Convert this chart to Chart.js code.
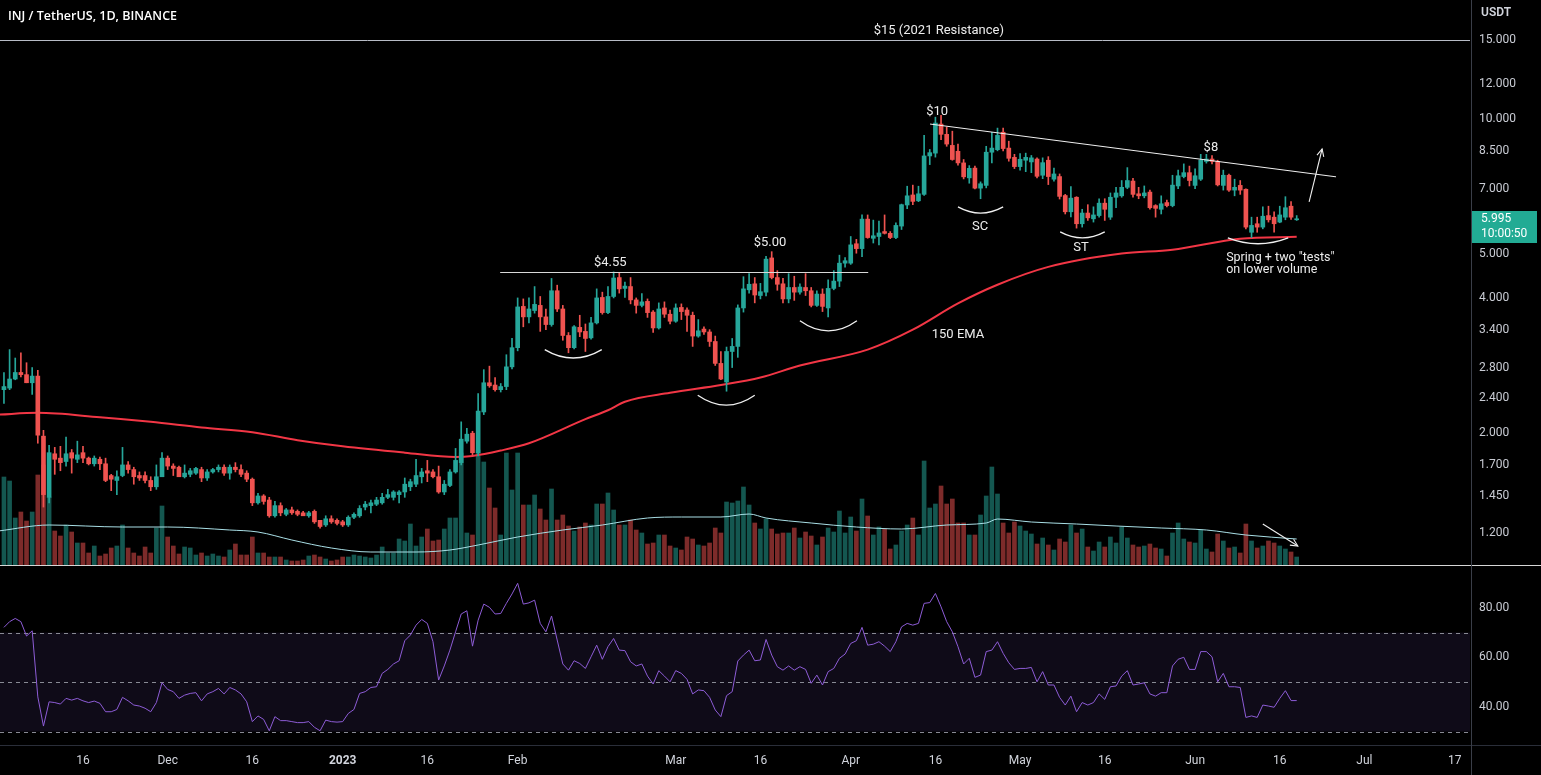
<!DOCTYPE html>
<html><head><meta charset="utf-8">
<script src="https://cdn.jsdelivr.net/npm/chart.js@4.4.0/dist/chart.umd.min.js"></script>
<style>
html,body{margin:0;padding:0;background:#000;overflow:hidden}
#wrap{position:relative;width:1541px;height:775px;background:#000}
#c1{position:absolute;left:0;top:0}
#c2{position:absolute;left:0;top:566px}
.hl{position:absolute;left:0;width:1541px;height:1px}
</style></head><body>
<div id="wrap">
<canvas id="c1" width="1541" height="565"></canvas>
<canvas id="c2" width="1541" height="209"></canvas>
<div class="hl" style="top:565px;background:#d6d6d6"></div>
<div class="hl" style="top:745px;background:#2a2e39"></div>
<div style="position:absolute;left:1471px;top:0;width:1px;height:775px;background:#3a3e48"></div>
</div>
<script>
// ---- DATA (day index 0 = 1 Nov 2022; first candle = 2 Nov 2022) ----
const firstDay = 1;
const opens = [
2.50,2.52,2.64,2.73,2.70,2.59,2.68,1.97,1.44,1.80,
1.76,1.73,1.81,1.75,1.81,1.76,1.71,1.75,1.71,1.61,
1.57,1.61,1.70,1.66,1.61,1.61,1.57,1.52,1.60,1.76,
1.69,1.68,1.60,1.62,1.63,1.66,1.59,1.64,1.66,1.68,
1.63,1.68,1.66,1.63,1.58,1.40,1.45,1.42,1.31,1.38,
1.32,1.35,1.34,1.33,1.31,1.34,1.28,1.25,1.29,1.28,
1.27,1.25,1.30,1.31,1.37,1.38,1.39,1.40,1.44,1.44,
1.46,1.48,1.52,1.54,1.60,1.65,1.64,1.60,1.48,1.53,
1.64,1.72,1.92,2.00,1.81,2.23,2.59,2.56,2.50,2.54,
2.81,3.10,3.83,3.63,3.75,3.85,3.63,3.49,4.15,3.78,
3.30,3.10,3.44,3.37,3.26,3.52,4.01,3.71,4.03,4.44,
4.20,4.24,3.96,3.85,3.93,3.72,3.43,3.80,3.68,3.55,
3.81,3.76,3.66,3.29,3.41,3.36,3.20,2.86,2.60,3.04,
3.12,3.80,4.17,4.30,4.05,4.12,4.91,4.44,4.30,3.98,
4.22,4.12,4.22,4.15,3.85,4.08,3.80,4.20,4.36,4.78,
4.78,5.28,5.15,5.99,5.43,5.48,5.62,5.57,5.45,5.78,
6.44,6.78,6.58,6.80,8.28,8.40,9.75,9.25,8.74,8.48,
7.99,7.40,7.78,7.02,7.12,8.44,8.55,9.35,8.62,8.22,
7.84,8.10,8.03,8.15,7.50,8.10,7.35,7.45,6.76,6.22,
6.70,5.85,6.18,6.00,6.10,6.50,6.05,6.70,6.75,7.05,
7.28,6.82,6.75,6.88,6.42,6.30,6.52,6.42,7.10,7.45,
7.60,7.12,7.35,8.05,8.15,8.05,7.12,7.50,6.95,7.12,
6.98,5.60,5.85,5.75,6.10,6.05,5.90,6.05,6.40,5.97];
const highs = [
2.73,3.07,2.94,3.02,2.87,2.80,2.76,2.03,1.88,1.86,
1.87,1.96,1.84,1.92,1.87,1.77,1.78,1.77,1.76,1.62,
1.65,1.86,1.73,1.68,1.64,1.64,1.60,1.70,1.81,1.78,
1.71,1.69,1.70,1.67,1.68,1.68,1.66,1.67,1.70,1.70,
1.70,1.72,1.70,1.65,1.59,1.47,1.46,1.44,1.41,1.40,
1.36,1.37,1.35,1.34,1.34,1.35,1.28,1.31,1.31,1.29,
1.28,1.31,1.33,1.38,1.41,1.42,1.44,1.47,1.50,1.49,
1.49,1.59,1.58,1.75,1.67,1.74,1.66,1.69,1.57,1.66,
1.85,2.12,2.05,2.02,2.45,2.77,2.82,2.66,2.58,2.99,
3.25,4.00,3.98,4.00,4.24,4.03,3.78,4.42,4.27,3.85,
3.35,3.47,3.66,3.50,3.62,4.19,4.12,4.24,4.57,4.55,
4.34,4.44,4.00,4.09,3.98,3.75,3.90,3.92,3.76,3.88,
3.88,3.80,3.72,3.58,3.45,3.40,3.29,3.04,3.11,3.25,
3.86,4.46,4.53,4.44,4.31,4.95,5.07,4.60,4.42,4.53,
4.47,4.30,4.53,4.22,4.15,4.19,4.39,4.60,4.98,4.92,
5.48,5.40,6.12,6.12,5.96,5.93,6.12,5.62,5.88,6.47,
7.09,7.13,7.09,9.20,8.56,10.1,10.2,9.60,9.40,8.80,
8.13,7.88,7.86,7.25,8.70,9.35,9.55,9.55,8.93,8.35,
8.38,8.40,8.30,8.20,8.20,8.25,7.78,7.55,6.80,7.08,
6.72,6.30,6.45,6.38,6.65,6.65,6.85,7.05,7.30,7.80,
7.38,7.05,7.10,6.95,6.45,6.75,6.60,7.50,7.70,7.95,
7.86,7.75,8.35,8.35,8.30,8.10,7.70,7.55,7.35,7.30,
7.00,6.05,6.05,6.38,6.40,6.22,6.40,6.72,6.55,6.10];
const lows = [
2.33,2.50,2.63,2.67,2.59,2.44,1.90,1.37,1.40,1.62,
1.65,1.69,1.63,1.72,1.72,1.70,1.69,1.66,1.56,1.49,
1.46,1.60,1.63,1.54,1.57,1.55,1.49,1.50,1.60,1.66,
1.61,1.60,1.59,1.60,1.62,1.56,1.57,1.63,1.64,1.61,
1.58,1.64,1.60,1.56,1.38,1.39,1.39,1.30,1.30,1.31,
1.31,1.32,1.31,1.31,1.30,1.26,1.23,1.24,1.26,1.25,
1.24,1.24,1.29,1.30,1.35,1.33,1.38,1.39,1.43,1.42,
1.40,1.44,1.49,1.52,1.55,1.56,1.59,1.47,1.46,1.52,
1.63,1.70,1.90,1.79,1.78,2.20,2.53,2.48,2.47,2.50,
2.78,3.05,3.45,3.52,3.70,3.37,3.40,3.46,3.73,3.22,
3.02,3.08,3.28,3.04,3.24,3.50,3.68,3.69,4.00,4.10,
4.01,3.88,3.70,3.82,3.62,3.35,3.41,3.62,3.50,3.53,
3.58,3.37,3.12,3.27,3.32,3.12,2.83,2.63,2.48,2.80,
2.95,3.72,4.10,3.90,3.98,4.04,4.41,4.16,3.90,3.90,
3.95,4.08,4.05,3.82,3.83,3.73,3.63,4.17,4.24,4.68,
4.75,5.03,4.94,5.43,5.30,5.25,5.55,5.42,5.42,5.68,
6.32,6.45,6.55,6.76,7.92,8.23,9.00,8.70,8.10,7.90,
7.36,7.20,6.99,6.65,7.03,7.99,8.50,8.50,8.06,7.76,
7.70,7.64,7.60,7.40,7.37,7.15,7.28,6.64,6.15,6.06,
5.72,5.75,5.95,5.90,6.05,5.95,5.98,6.35,6.70,7.00,
6.70,6.65,6.68,6.30,6.05,6.15,6.38,6.38,7.00,7.40,
7.10,7.00,7.30,7.98,7.95,7.10,6.95,6.90,6.75,6.80,
5.70,5.45,5.60,5.70,5.90,5.60,5.88,5.97,5.98,5.95];
const closes = [
2.54,2.64,2.73,2.70,2.59,2.68,1.98,1.46,1.81,1.75,
1.72,1.80,1.76,1.79,1.76,1.71,1.76,1.71,1.57,1.58,
1.60,1.70,1.66,1.60,1.59,1.57,1.52,1.60,1.76,1.69,
1.67,1.60,1.63,1.65,1.67,1.59,1.64,1.66,1.68,1.63,
1.68,1.66,1.62,1.58,1.40,1.45,1.41,1.31,1.38,1.33,
1.35,1.33,1.32,1.31,1.33,1.27,1.24,1.29,1.27,1.26,
1.25,1.30,1.32,1.36,1.39,1.40,1.42,1.44,1.46,1.48,
1.48,1.54,1.56,1.61,1.64,1.63,1.60,1.48,1.54,1.64,
1.74,1.94,1.99,1.81,2.24,2.59,2.55,2.50,2.54,2.81,
3.10,3.82,3.63,3.78,3.87,3.63,3.49,4.15,3.78,3.30,
3.10,3.45,3.36,3.25,3.52,4.00,3.71,4.03,4.43,4.19,
4.25,3.96,3.85,3.92,3.71,3.43,3.78,3.68,3.55,3.80,
3.73,3.66,3.29,3.38,3.36,3.20,2.86,2.64,3.04,3.12,
3.80,4.19,4.29,4.06,4.13,4.88,4.44,4.29,3.98,4.22,
4.12,4.23,4.15,3.85,4.08,3.83,4.20,4.36,4.78,4.84,
5.25,5.15,5.99,5.45,5.50,5.58,5.57,5.45,5.80,6.45,
6.75,6.56,6.82,8.28,8.42,9.80,9.25,8.80,8.13,7.99,
7.44,7.77,7.02,7.18,8.44,8.62,9.20,8.60,8.18,7.84,
8.14,8.22,8.20,7.46,8.00,7.45,7.55,6.73,6.22,6.67,
5.85,6.18,6.03,6.12,6.50,6.30,6.70,6.85,7.05,7.30,
6.80,6.75,6.85,6.35,6.33,6.48,6.42,7.13,7.48,7.60,
7.30,7.48,8.10,8.15,8.05,7.14,7.50,6.95,7.05,6.95,
5.75,5.80,5.75,6.08,5.97,5.85,6.12,6.35,6.05,5.995];
const volumes = [
88,84,47,53,44,53,90,100,68,34,
29,40,33,22,22,12,19,9,11,17,
19,40,17,12,9,18,12,37,59,28,
19,11,18,17,10,12,9,11,9,8,
15,21,10,10,28,12,12,8,8,8,
5,4,4,5,9,10,8,6,4,5,
8,8,10,9,8,7,10,18,12,12,
26,24,41,19,28,36,24,25,36,47,
47,112,32,30,115,103,77,57,30,112,
75,112,60,60,70,56,45,76,45,50,
39,34,38,42,40,61,61,72,55,40,
40,45,35,32,21,22,30,30,19,17,
15,28,26,20,19,22,37,32,63,62,
64,78,60,42,36,46,36,31,32,32,
37,27,33,29,20,28,37,33,54,32,
48,34,66,49,30,38,36,16,20,34,
40,47,30,104,57,61,79,61,66,42,
42,30,30,50,69,98,71,42,32,43,
39,34,31,21,27,20,15,26,23,40,
32,36,18,14,23,18,28,22,38,27,
20,18,19,21,17,16,9,32,42,26,
23,22,35,16,13,31,24,17,18,12,
41,24,17,19,24,22,19,16,13,8];
const rsiValues = [
72.1,74.4,75.7,74.4,68.6,70.7,44.0,32.2,42.0,41.7,
41.1,43.4,42.7,43.4,42.4,41.7,42.3,41.4,38.0,38.0,
38.9,43.8,42.4,40.7,40.3,39.4,38.0,41.7,49.7,47.0,
46.1,43.4,44.7,45.4,45.7,42.4,45.2,46.1,47.4,45.2,
47.8,46.8,45.2,42.0,34.0,36.3,34.9,30.3,36.0,34.4,
34.4,34.0,33.6,33.6,34.0,31.7,30.3,34.6,34.0,33.8,
34.0,37.3,38.9,45.4,46.1,47.8,48.1,53.5,55.1,57.3,
58.6,66.7,69.0,73.0,75.3,73.7,66.3,50.8,56.5,62.9,
70.3,77.5,78.8,64.5,75.0,81.5,80.2,77.5,77.7,81.8,
85.6,89.9,81.5,82.0,83.1,73.7,70.3,76.7,67.0,57.3,
54.8,58.6,57.5,55.5,60.2,64.9,59.2,64.3,67.6,62.9,
62.7,58.2,56.5,57.3,52.4,49.2,54.6,52.4,50.1,54.6,
53.5,51.1,45.2,46.8,46.5,43.8,38.7,36.0,44.5,46.1,
58.5,60.9,62.9,58.6,58.9,67.2,60.9,56.2,54.8,56.5,
54.8,56.2,55.1,49.5,52.8,48.8,54.2,55.5,59.6,61.3,
65.6,66.7,72.1,64.9,65.3,66.3,64.5,62.3,66.3,72.3,
73.7,73.0,73.7,81.8,82.1,85.8,80.4,74.4,70.3,64.3,
57.3,59.6,51.9,52.8,62.3,62.9,66.3,61.6,57.8,55.1,
55.5,55.5,55.9,50.1,54.2,48.8,48.8,43.8,40.7,44.3,
38.0,41.7,40.7,41.7,45.2,43.0,48.1,48.4,52.4,54.6,
48.8,49.2,49.7,45.2,44.3,45.7,45.7,56.5,59.2,60.0,
55.1,55.1,62.3,62.3,60.2,50.1,53.5,48.1,48.1,47.8,
35.7,36.3,35.7,40.7,40.3,39.8,43.4,46.5,42.5,42.5];
// 150 EMA read at selected days
const emaDays   = [0,7,18,27,36,45,53,61,72,81,84,89,94,104,108,111,119,128,135,142,154,162,170,177,186,199,208,220,230];
const emaValues = [2.20,2.22,2.17,2.12,2.06,2.01,1.93,1.87,1.81,1.77,1.78,1.83,1.90,2.15,2.25,2.35,2.46,2.56,2.66,2.83,3.07,3.40,3.89,4.28,4.69,5.02,5.12,5.42,5.47];
// volume moving average read at selected days
const vmaDays   = [0,9,22,30,41,46,52,59,66,74,80,85,92,100,107,115,121,128,133,136,144,152,160,168,175,177,183,191,198,206,214,221,230];
const vmaValues = [34,40,38,38,35,33,25,17,13,13,15,20,28,35,40,47,48,48,51,47,42,38,36,40,42,46,43,41,39,37,35,30,26];
const priceTicks = [15,12,10,8.5,7,5,4,3.4,2.8,2.4,2,1.7,1.45,1.2];
const rsiTicks = [80,60,40];
const rsiLevels = [70,50,30];
const dateTickDays   = [15,30,45,61,76,92,120,135,151,166,181,196,212,227,242,258];
const dateTickLabels = ['16','Dec','16','2023','16','Feb','Mar','16','Apr','16','May','16','Jun','16','Jul','17'];
const lastPrice = 5.995, countdown = '10:00:50';

// annotations in data coordinates (day index, price)
const hLines = [
  {from:0.3, to:260.7, price:15, color:'#b8bcc6'},
  {from:88.9, to:154.1, price:4.57, color:'#d8d8d8'}
];
const trendLine = {d1:165.05, p1:9.75, d2:236.97, p2:7.44};
const upArrow = {d1:232.2, p1:6.54, d2:234.5, p2:8.58};
const volArrow = {d1:224.0, v1:41, d2:230.2, v2:19};
const arcs = [
  [96.8,106.9,3.07,2.94],[123.9,134.0,2.43,2.31],[142.0,152.1,3.56,3.38],
  [170.0,178.0,6.38,6.18],[188.1,196.0,5.61,5.44],[217.8,228.5,5.44,5.28]
];
const labels = [
  ['$15 (2021 Resistance)',166.6,15.71,'center'],
  ['$4.55',108.4,4.79,'center'],
  ['$5.00',136.7,5.30,'center'],
  ['$10',166.3,10.37,'center'],
  ['$8',214.8,8.63,'center'],
  ['SC',173.9,5.75,'center'],
  ['ST',191.8,5.17,'center'],
  ['150 EMA',170.0,3.31,'center'],
  ['Spring + two "tests"',217.5,4.91,'left'],
  ['on lower volume',217.5,4.62,'left']
];

// ---- CHART ----
const GREEN = '#26a69a', RED = '#ef5350';
const VGREEN = 'rgba(38,166,154,0.52)', VRED = 'rgba(239,83,80,0.52)';
const xMin = 0.3, xMax = 260.7;
const days = closes.map((_, k) => firstDay + k);
const up = closes.map((c, k) => c >= opens[k]);
const FONT = 'Roboto, "Open Sans", sans-serif';

const overlay1 = {
  id: 'overlay1',
  afterDraw(chart) {
    const {ctx, chartArea: a} = chart;
    const xs = chart.scales.x, ys = chart.scales.y, vs = chart.scales.v;
    const X = d => xs.getPixelForValue(d), Y = p => ys.getPixelForValue(p), V = q => vs.getPixelForValue(q);
    ctx.save();
    ctx.beginPath(); ctx.rect(a.left, a.top, a.right - a.left, a.bottom - a.top); ctx.clip();
    ctx.lineWidth = 1;
    hLines.forEach(h => {
      const y = Math.round(Y(h.price)) + 0.5;
      ctx.strokeStyle = h.color; ctx.beginPath(); ctx.moveTo(X(h.from), y); ctx.lineTo(X(h.to), y); ctx.stroke();
    });
    ctx.strokeStyle = '#f0f0f0';
    ctx.beginPath(); ctx.moveTo(X(trendLine.d1), Y(trendLine.p1)); ctx.lineTo(X(trendLine.d2), Y(trendLine.p2)); ctx.stroke();
    // arcs
    ctx.lineWidth = 1.3;
    arcs.forEach(([dl, dr, pe, pb]) => {
      const x1 = X(dl), x2 = X(dr), ye = Y(pe), yb = Y(pb);
      ctx.beginPath(); ctx.moveTo(x1, ye); ctx.quadraticCurveTo((x1 + x2) / 2, 2 * yb - ye, x2, ye); ctx.stroke();
    });
    // arrows
    const arrow = (x1, y1, x2, y2) => {
      ctx.beginPath(); ctx.moveTo(x1, y1); ctx.lineTo(x2, y2); ctx.stroke();
      const ang = Math.atan2(y2 - y1, x2 - x1), L = 8;
      ctx.beginPath();
      ctx.moveTo(x2 - L * Math.cos(ang - 0.45), y2 - L * Math.sin(ang - 0.45));
      ctx.lineTo(x2, y2);
      ctx.lineTo(x2 - L * Math.cos(ang + 0.45), y2 - L * Math.sin(ang + 0.45));
      ctx.stroke();
    };
    ctx.lineWidth = 1.1;
    arrow(X(upArrow.d1), Y(upArrow.p1), X(upArrow.d2), Y(upArrow.p2));
    arrow(X(volArrow.d1), V(volArrow.v1), X(volArrow.d2), V(volArrow.v2));
    // labels
    ctx.fillStyle = '#ececec';
    ctx.textBaseline = 'middle';
    labels.forEach(([t, d, p, al]) => {
      ctx.font = (al === 'left' ? '12.5px ' : '13px ') + FONT;
      ctx.textAlign = al; ctx.fillText(t, X(d), Y(p));
    });
    ctx.restore();
    // header and axis chrome
    ctx.save();
    ctx.fillStyle = '#ffffff'; ctx.textBaseline = 'middle'; ctx.textAlign = 'left';
    ctx.font = '600 12.5px "Open Sans", sans-serif';
    ctx.fillText('INJ / TetherUS, 1D, BINANCE', 8, 16);
    ctx.font = '600 12px ' + FONT; ctx.fillStyle = '#d1d4dc';
    ctx.fillText('USDT', 1481, 13);
    // last price tag
    const yp = Y(lastPrice);
    ctx.fillStyle = '#22ab94';
    ctx.fillRect(1472, Math.round(yp) - 8, 65, 32);
    ctx.fillStyle = '#ffffff'; ctx.font = '12px ' + FONT;
    ctx.fillText(lastPrice.toFixed(3), 1481, yp);
    ctx.fillText(countdown, 1481, yp + 15);
    ctx.restore();
  }
};

new Chart(document.getElementById('c1'), {
  type: 'bar',
  data: {
    datasets: [
      { type: 'line', data: emaDays.map((d, k) => ({x: d, y: emaValues[k]})), yAxisID: 'y',
        borderColor: '#f23645', borderWidth: 2, pointRadius: 0, cubicInterpolationMode: 'monotone', order: 2 },
      { type: 'bar', data: days.map((d, k) => ({x: d, y: [lows[k], highs[k]]})), yAxisID: 'y',
        backgroundColor: c => up[c.dataIndex] ? GREEN : RED, barThickness: 1, grouped: false, order: 1 },
      { type: 'bar', data: days.map((d, k) => ({x: d, y: [opens[k], closes[k]]})), yAxisID: 'y',
        backgroundColor: c => up[c.dataIndex] ? GREEN : RED, barThickness: 4, minBarLength: 1, grouped: false, order: 0 },
      { type: 'line', data: vmaDays.map((d, k) => ({x: d, y: vmaValues[k]})), yAxisID: 'v',
        borderColor: '#a9dfe6', borderWidth: 1, pointRadius: 0, cubicInterpolationMode: 'monotone', order: 8 },
      { type: 'bar', data: days.map((d, k) => ({x: d, y: volumes[k]})), yAxisID: 'v',
        backgroundColor: c => up[c.dataIndex] ? VGREEN : VRED, barThickness: 4, grouped: false, order: 9 }
    ]
  },
  options: {
    responsive: false, animation: false, events: [], devicePixelRatio: 1,
    layout: {padding: 0},
    plugins: {legend: {display: false}, tooltip: {enabled: false}},
    scales: {
      x: {type: 'linear', min: xMin, max: xMax, offset: false, display: false},
      y: {type: 'logarithmic', position: 'right', min: 1.018, max: 18.41, bounds: 'data',
          grid: {display: false, drawTicks: false}, border: {display: false},
          afterBuildTicks: s => { s.ticks = priceTicks.map(v => ({value: v})); },
          afterFit: s => { s.width = 71; s.paddingTop = 0; s.paddingBottom = 0; },
          ticks: {padding: 9, color: '#c9ccd4', font: {family: FONT, size: 12}, callback: v => Number(v).toFixed(3)}},
      v: {type: 'linear', display: false, min: 0, max: 565}
    }
  },
  plugins: [overlay1]
});

const rsiBand = {
  id: 'rsiBand',
  beforeDatasetsDraw(chart) {
    const {ctx, chartArea: a} = chart; const ys = chart.scales.y;
    ctx.save();
    ctx.fillStyle = 'rgba(126,87,194,0.12)';
    const yt = ys.getPixelForValue(rsiLevels[0]), yb = ys.getPixelForValue(rsiLevels[2]);
    ctx.fillRect(a.left, yt, a.right - a.left, yb - yt);
    ctx.strokeStyle = 'rgba(150,152,162,0.9)'; ctx.lineWidth = 1; ctx.setLineDash([4, 4]);
    rsiLevels.forEach(l => {
      const y = Math.round(ys.getPixelForValue(l)) + 0.5;
      ctx.beginPath(); ctx.moveTo(a.left, y); ctx.lineTo(a.right, y); ctx.stroke();
    });
    ctx.restore();
  }
};

new Chart(document.getElementById('c2'), {
  type: 'line',
  data: {datasets: [{data: days.map((d, k) => ({x: d, y: rsiValues[k]})), borderColor: '#8d5cd6', borderWidth: 1, pointRadius: 0, tension: 0}]},
  options: {
    responsive: false, animation: false, events: [], devicePixelRatio: 1,
    layout: {padding: 0},
    plugins: {legend: {display: false}, tooltip: {enabled: false}},
    scales: {
      x: {type: 'linear', min: xMin, max: xMax, offset: false, bounds: 'data',
          grid: {display: false, drawTicks: false}, border: {display: false},
          afterBuildTicks: s => { s.ticks = dateTickDays.map(v => ({value: v})); },
          afterFit: s => { s.height = 30; s.paddingLeft = 0; s.paddingRight = 0; },
          ticks: {autoSkip: false, maxRotation: 0, padding: 9, color: '#d1d4dc',
                  font: c => ({family: FONT, size: 12, weight: dateTickLabels[c.index] === '2023' ? 'bold' : 'normal'}),
                  callback: (v, i) => dateTickLabels[i]}},
      y: {type: 'linear', position: 'right', min: 24.55, max: 96.9, bounds: 'data',
          grid: {display: false, drawTicks: false}, border: {display: false},
          afterBuildTicks: s => { s.ticks = rsiTicks.map(v => ({value: v})); },
          afterFit: s => { s.width = 71; s.paddingTop = 0; s.paddingBottom = 0; },
          ticks: {padding: 9, color: '#c9ccd4', font: {family: FONT, size: 12}, callback: v => Number(v).toFixed(2)}}
    }
  },
  plugins: [rsiBand]
});
</script>
</body></html>
